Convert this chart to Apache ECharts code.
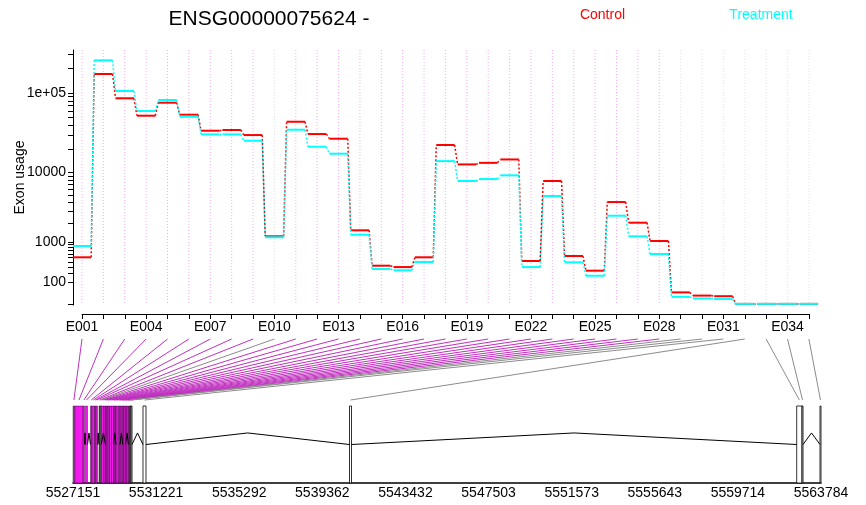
<!DOCTYPE html>
<html><head><meta charset="utf-8">
<script src="https://cdn.jsdelivr.net/npm/echarts@6/dist/echarts.min.js"></script>
<style>html,body{margin:0;padding:0;background:#fff}#c{width:866px;height:505px}</style>
</head><body><div id="c"></div>
<script>
// ---------------- data ----------------
const geneTitle = 'ENSG00000075624 -';
const exons = ['E001','E002','E003','E004','E005','E006','E007','E008','E009','E010',
  'E011','E012','E013','E014','E015','E016','E017','E018','E019','E020',
  'E021','E022','E023','E024','E025','E026','E027','E028','E029','E030',
  'E031','E032','E033','E034','E035'];
const control = [507, 172000, 86000, 52200, 75800, 53700, 33900, 34600, 29900, 1245,
  43900, 30800, 26900, 1557, 325, 300, 507, 22400, 12700, 13300,
  14700, 420, 7740, 540, 240, 4040, 2040, 1037, 27, 14,
  12, 0, 0, 0, 0];
const treatment = [845, 254000, 105900, 59700, 81900, 50700, 30500, 30500, 25400, 1200,
  34900, 21300, 17400, 1323, 267, 246, 399, 14000, 7740, 8210,
  9180, 300, 4885, 392, 169, 2589, 1245, 593, 10, 6,
  5, 0, 0, 0, 0];
const significant = [1,1,1,1,1,1,1,1,1,0, 1,1,1,1,1,1,1,1,1,1, 1,1,1,1,1,1,1,1,0,0, 0,0,0,0,0];
const exonStart = [5527151,5527240,5527652,5527763,5528008,5528083,5528205,5528278,5528424,5528484,
  5528538,5528670,5528744,5528817,5528876,5528940,5529038,5529135,5529199,5529258,
  5529371,5529454,5529518,5529591,5529650,5529723,5529797,5529870,5529944,5529993,
  5530579,5540693,5562594,5562855,5563735];
const exonEnd = [5527239,5527651,5527714,5527861,5528082,5528204,5528277,5528351,5528483,5528537,
  5528669,5528743,5528816,5528875,5528939,5529037,5529134,5529198,5529257,5529370,
  5529453,5529517,5529590,5529649,5529722,5529796,5529869,5529943,5529992,5530041,
  5530726,5540791,5562854,5562903,5563784];
const intronStart = [5527714,5527861,5528351,5528537,5529134,5529453,5529722,5530041,5530726,5540791,5562903];
const intronEnd   = [5527763,5528008,5528424,5528743,5529257,5529590,5529869,5530579,5540693,5562594,5563735];
const yTickValues = [0,100,200,300,400,500,600,700,800,900,1000,2000,3000,4000,5000,6000,7000,8000,9000,
  10000,20000,30000,40000,50000,60000,70000,80000,90000,100000,200000,300000];
const yLabelValues = [100,1000,10000,100000];
const yLabelTexts = ['100','1000','10000','1e+05'];
const genomicTicks = [5527151,5531221,5535292,5539362,5543432,5547503,5551573,5555643,5559714,5563784];
const groupNames = ['Control','Treatment'];
const groupColors = ['#FF0000','#00FFFF'];

// ---------------- rendering ----------------
const FONT = "'Liberation Sans', Arial, Helvetica, sans-serif";
const K = 1000;
const vst = q => 2 * Math.log10((Math.sqrt(q) + Math.sqrt(q + K)) / 2);
const HW = 0.43;
const Y_MIN = 2.3843, Y_MAX = 5.5332;
const gMin = genomicTicks[0], gMax = genomicTicks[genomicTicks.length - 1];

const chart = echarts.init(document.getElementById('c'));

function stepSeries(name, values, color, z) {
  const n = values.length;
  return {
    type: 'custom', name, xAxisIndex: 0, yAxisIndex: 0, z, silent: true,
    data: values.map((v, i) => [i + 1, vst(v), vst(values[Math.min(i + 1, n - 1)])]),
    renderItem(params, api) {
      const x = api.value(0), t = api.value(1), tn = api.value(2);
      const a = api.coord([x - HW, t]), b = api.coord([x + HW, t]);
      const ch = [{ type: 'line', shape: { x1: a[0], y1: a[1], x2: b[0], y2: b[1] },
        style: { stroke: color, lineWidth: 2 } }];
      if (params.dataIndex < n - 1) {
        const c = api.coord([x + 1 - HW, tn]);
        ch.push({ type: 'line', shape: { x1: b[0], y1: b[1], x2: c[0], y2: c[1] },
          style: { stroke: color, lineWidth: 1.5, lineDash: [2, 2] } });
      }
      return { type: 'group', children: ch };
    }
  };
}

const option = {
  animation: false,
  backgroundColor: '#fff',
  textStyle: { fontFamily: FONT },
  grid: [
    { left: 73, top: 50, width: 757.3, height: 255 },
    { left: 82, top: 300, width: 726.9, height: 14 },
    { left: 73, top: 406, width: 748, height: 77 }
  ],
  xAxis: [
    { gridIndex: 0, type: 'value', min: 0.58, max: 36, show: false },
    { gridIndex: 1, type: 'value', min: 1, max: 35, interval: 1,
      axisLine: { show: true, lineStyle: { color: '#000', width: 1 } },
      axisTick: { show: true, length: 5, lineStyle: { color: '#000' } },
      splitLine: { show: false },
      axisLabel: { margin: 6, fontSize: 14, color: '#000', fontFamily: FONT,
        formatter: v => ((v - 1) % 3 === 0 ? exons[v - 1] : '') } },
    { gridIndex: 2, type: 'value', min: gMin, max: gMax,
      axisLine: { show: true, lineStyle: { color: '#000', width: 1.5 } },
      axisTick: { show: false }, splitLine: { show: false },
      axisLabel: { customValues: genomicTicks, margin: 3, fontSize: 14, color: '#000', fontFamily: FONT,
        formatter: v => String(v) } }
  ],
  yAxis: [
    { gridIndex: 0, type: 'value', min: Y_MIN, max: Y_MAX,
      name: 'Exon usage', nameLocation: 'middle', nameRotate: 90, nameGap: 46, nameMoveOverlap: false,
      nameTextStyle: { fontSize: 14, color: '#000', fontFamily: FONT },
      axisLine: { show: true, lineStyle: { color: '#000', width: 1 } },
      axisTick: { show: true, length: 5, customValues: yTickValues.map(vst), lineStyle: { color: '#000' } },
      splitLine: { show: false },
      axisLabel: { customValues: yLabelValues.map(vst), margin: 7, fontSize: 14, color: '#000', fontFamily: FONT,
        formatter: v => {
          let best = 0, d = Infinity;
          yLabelValues.forEach((q, j) => { const dd = Math.abs(vst(q) - v); if (dd < d) { d = dd; best = j; } });
          return yLabelTexts[best];
        } } },
    { gridIndex: 1, type: 'value', min: 0, max: 1, show: false },
    { gridIndex: 2, type: 'value', min: 0, max: 1, show: false }
  ],
  series: [
    { type: 'custom', xAxisIndex: 0, yAxisIndex: 0, z: 1, silent: true,
      data: exons.map((e, i) => [i + 1, Y_MIN, significant[i]]),
      renderItem(params, api) {
        const x = api.value(0);
        const a = api.coord([x, Y_MAX]), b = api.coord([x, Y_MIN]);
        return { type: 'line', shape: { x1: a[0], y1: a[1], x2: b[0], y2: b[1] },
          style: { stroke: api.value(2) ? 'rgba(242,25,237,0.38)' : 'rgba(179,179,179,0.38)', lineWidth: 1, lineDash: [1, 2] } };
      } },
    stepSeries(groupNames[0], control, groupColors[0], 3),
    stepSeries(groupNames[1], treatment, groupColors[1], 4),
    { type: 'custom', xAxisIndex: 2, yAxisIndex: 2, z: 3, silent: true,
      data: exons.map((e, i) => [exonStart[i], 0, exonEnd[i], significant[i]]),
      renderItem(params, api) {
        const s = api.value(0), en = api.value(2), sig = api.value(3);
        const p0 = api.coord([s, 1]), p1 = api.coord([en, 0]);
        return { type: 'rect',
          shape: { x: p0[0], y: p0[1], width: Math.max(p1[0] - p0[0], 1), height: p1[1] - p0[1] },
          style: { fill: sig ? '#F219ED' : '#FFFFFF', stroke: '#000', lineWidth: sig ? 0.4 : 0.8 } };
      } },
    { type: 'custom', xAxisIndex: 2, yAxisIndex: 2, z: 4, silent: true,
      data: intronStart.map((s, i) => [s, 0.5, intronEnd[i]]),
      renderItem(params, api) {
        const s = api.value(0), en = api.value(2);
        const a = api.coord([s, 0.5]), m = api.coord([(s + en) / 2, 0.65]), b = api.coord([en, 0.5]);
        return { type: 'polyline', shape: { points: [a, m, b] },
          style: { stroke: '#000', fill: null, lineWidth: 1 } };
      } }
  ]
};
chart.setOption(option);

const els = [
  { type: 'text', x: 269, y: 19, silent: true,
    style: { text: geneTitle, font: '21px ' + FONT, fill: '#000', align: 'center', verticalAlign: 'middle' } },
  { type: 'text', x: 602.5, y: 15, silent: true,
    style: { text: groupNames[0], font: '14px ' + FONT, fill: groupColors[0], align: 'center', verticalAlign: 'middle' } },
  { type: 'text', x: 761, y: 15, silent: true,
    style: { text: groupNames[1], font: '14px ' + FONT, fill: groupColors[1], align: 'center', verticalAlign: 'middle' } }
];
exons.forEach((e, i) => {
  const xt = chart.convertToPixel({ xAxisIndex: 1 }, i + 1);
  const xb = chart.convertToPixel({ xAxisIndex: 2 }, (exonStart[i] + exonEnd[i]) / 2);
  els.push({ type: 'line', silent: true, z: 10,
    shape: { x1: xt, y1: 339, x2: xb, y2: 400 },
    style: { stroke: significant[i] ? '#C030C0' : '#8C8C8C', lineWidth: 1 } });
});
chart.setOption({ graphic: { elements: els } });
</script>
</body></html>
